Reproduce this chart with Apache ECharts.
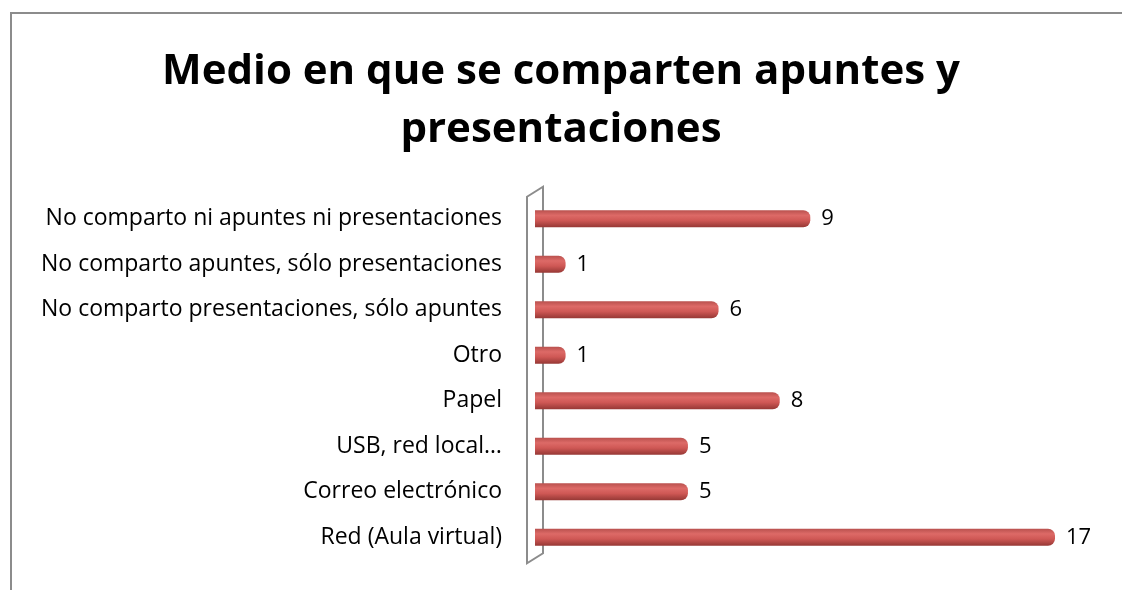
<!DOCTYPE html>
<html>
<head>
<meta charset="utf-8">
<script src="https://cdn.jsdelivr.net/npm/echarts@6/dist/echarts.min.js"></script>
<style>
  html, body { margin: 0; padding: 0; background: #fff; }
  #main { width: 1122px; height: 590px; }
</style>
</head>
<body>
<div id="main"></div>
<script type="text/javascript">
// categories, bottom to top (as drawn by a category y axis)
var categories = [
    'Red (Aula virtual)',
    'Correo electrónico',
    'USB, red local…',
    'Papel',
    'Otro',
    'No comparto presentaciones, sólo apuntes',
    'No comparto apuntes, sólo presentaciones',
    'No comparto ni apuntes ni presentaciones'
];
var values = [17, 5, 5, 8, 1, 6, 1, 9];

var titleLines = ['Medio en que se comparten apuntes y', 'presentaciones'];

(function(){
    var myChart = echarts.init(document.getElementById('main'));

    // cylinder-ish shading for the bars
    var barColor = new echarts.graphic.LinearGradient(0, 0, 0, 1, [
        { offset: 0, color: '#b9514e' },
        { offset: 0.3, color: '#dd6a67' },
        { offset: 0.6, color: '#cf5855' },
        { offset: 1, color: '#963835' }
    ]);

    var option = {
        backgroundColor: '#fff',
        title: {
            text: titleLines.join('\n'),
            left: 'center',
            top: 38,
            textStyle: {
                fontFamily: 'Open Sans',
                fontWeight: 'bold',
                fontSize: 42,
                lineHeight: 58,
                color: '#000'
            }
        },
        grid: {
            left: 535,
            right: 67,
            top: 196,
            bottom: 30,
            containLabel: false
        },
        xAxis: {
            type: 'value',
            min: 0,
            max: 17,
            show: false
        },
        yAxis: {
            type: 'category',
            data: categories,
            axisLine: { show: false },
            axisTick: { show: false },
            axisLabel: {
                margin: 33,
                fontFamily: 'Open Sans',
                fontSize: 23,
                color: '#000'
            }
        },
        series: [
            {
                type: 'bar',
                data: values,
                barWidth: 17,
                itemStyle: {
                    color: barColor,
                    borderRadius: [0, 7, 7, 0]
                },
                label: {
                    show: true,
                    position: 'right',
                    distance: 11,
                    fontFamily: 'Open Sans',
                    fontSize: 22,
                    color: '#000'
                }
            }
        ]
    };

    myChart.setOption(option);

    // outer frame and the 3D wall behind the bars
    var top = myChart.convertToPixel({ gridIndex: 0 }, [0, categories.length - 1]);
    var bot = myChart.convertToPixel({ gridIndex: 0 }, [0, 0]);
    var x0 = top[0];
    var yTop = top[1] - 32;
    var yBot = bot[1] + 26;
    myChart.setOption({
        graphic: [
            {
                type: 'rect',
                shape: { x: 11, y: 13, width: 1130, height: 600 },
                style: { fill: null, stroke: '#8c8c8c', lineWidth: 2 },
                silent: true
            },
            {
                type: 'polygon',
                z: -1,
                shape: {
                    points: [
                        [x0 - 8, yTop + 10],
                        [x0 + 8, yTop],
                        [x0 + 8, yBot - 10],
                        [x0 - 8, yBot]
                    ]
                },
                style: { fill: '#fff', stroke: '#8c8c8c', lineWidth: 2 },
                silent: true
            }
        ]
    });
})();
</script>
</body>
</html>
